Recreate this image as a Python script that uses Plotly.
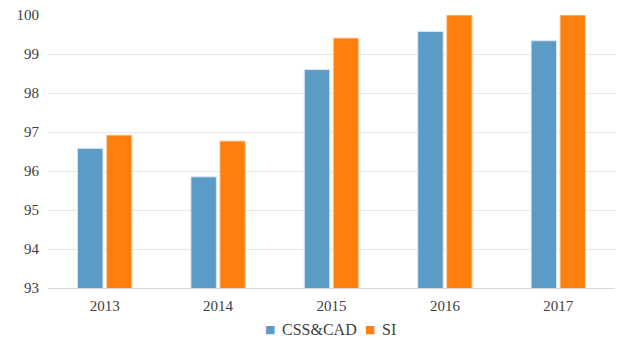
import plotly.graph_objects as go

years = ["2013", "2014", "2015", "2016", "2017"]
css_cad = [96.58, 95.85, 98.60, 99.58, 99.34]
si = [96.92, 96.77, 99.41, 100.0, 100.0]
y_ticks = [93, 94, 95, 96, 97, 98, 99, 100]
names = ["CSS&CAD", "SI"]
colors = ["#5b9bc6", "#ff7f0e"]
edges = ["#d6e6f2", "#ffd2a8"]

W, H = 619, 340
fig = go.Figure()
for nm, vals, c, e in zip(names, [css_cad, si], colors, edges):
    fig.add_bar(x=years, y=vals, name=nm, showlegend=False,
                marker=dict(color=c, line=dict(color=e, width=1)))

serif = "Times New Roman, Liberation Serif, serif"

# legend drawn as text: colored square glyph + series name
legend_x = [270, 370]   # pixel centres of the swatches
legend_y = 329
for nm, c, px in zip(names, colors, legend_x):
    fig.add_annotation(xref="paper", yref="paper", x=(px - 48) / (W - 52), y=(H - 52 - legend_y) / (H - 67),
                       text="■", showarrow=False, xanchor="center", yanchor="middle",
                       font=dict(family="DejaVu Sans", size=11, color=c))
    fig.add_annotation(xref="paper", yref="paper", x=(px + 10 - 48) / (W - 52), y=(H - 52 - legend_y) / (H - 67),
                       text=nm, showarrow=False, xanchor="left", yanchor="middle",
                       font=dict(family=serif, size=16, color="#404040"))

fig.update_layout(
    width=W, height=H,
    margin=dict(l=48, r=4, t=15, b=52, autoexpand=False),
    paper_bgcolor="white", plot_bgcolor="white",
    barmode="group", bargap=0.49, bargroupgap=0.12,
    font=dict(family=serif, size=15, color="#404040"),
    showlegend=False,
    xaxis=dict(showgrid=False, showline=True, linecolor="#d9d9d9", ticks="",
               tickfont=dict(family=serif, size=15), ticklabelstandoff=4),
    yaxis=dict(range=[93, 100], tickvals=y_ticks, showgrid=True, gridcolor="#e6e6e6", gridwidth=1,
               zeroline=False, ticks="", tickfont=dict(family=serif, size=15), ticklabelstandoff=8),
)
fig.write_html("out.html")
